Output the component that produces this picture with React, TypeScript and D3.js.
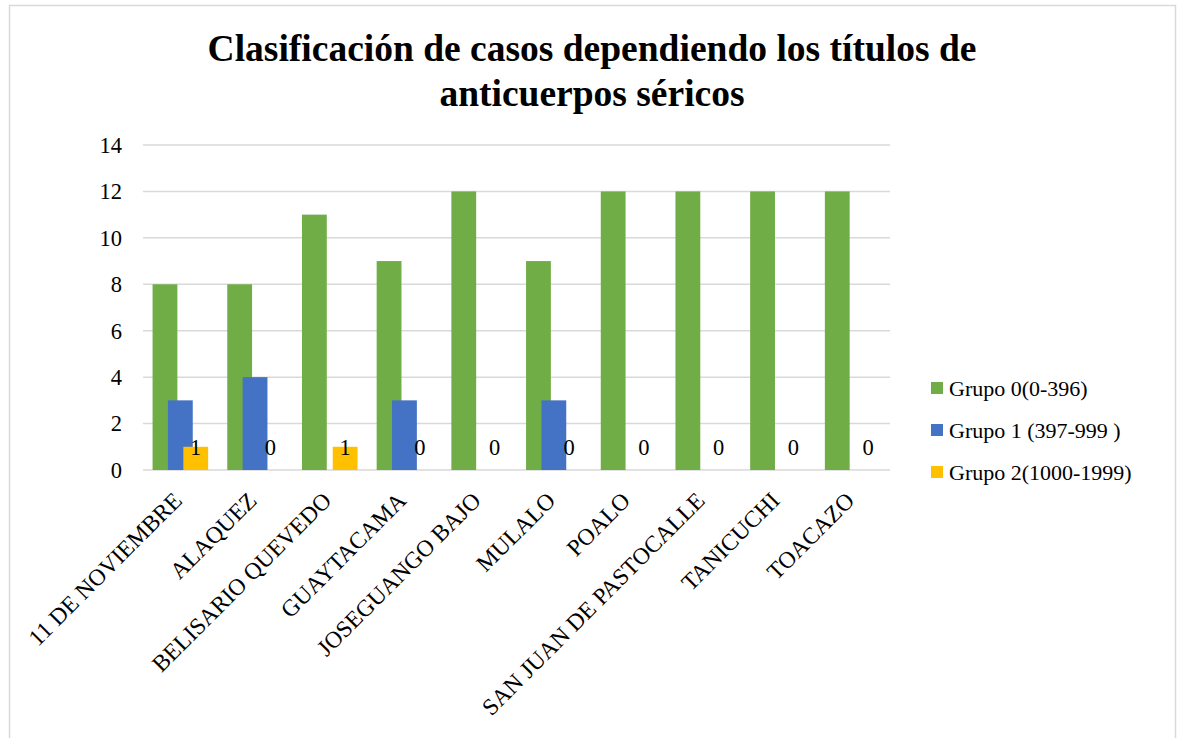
import React from "react";
import * as d3 from "d3";

const categories = [
  "11 DE NOVIEMBRE",
  "ALAQUEZ",
  "BELISARIO QUEVEDO",
  "GUAYTACAMA",
  "JOSEGUANGO BAJO",
  "MULALO",
  "POALO",
  "SAN JUAN DE PASTOCALLE",
  "TANICUCHI",
  "TOACAZO",
];
const grupo0 = [8, 8, 11, 9, 12, 9, 12, 12, 12, 12];
const grupo1 = [3, 4, 0, 3, 0, 3, 0, 0, 0, 0];
const grupo2 = [1, 0, 1, 0, 0, 0, 0, 0, 0, 0];
const seriesNames = ["Grupo 0(0-396)", "Grupo 1 (397-999 )", "Grupo 2(1000-1999)"];
const seriesColors = ["#70AD47", "#4472C4", "#FFC000"];
const yTicks = [0, 2, 4, 6, 8, 10, 12, 14];
const titleLines = ["Clasificación de casos dependiendo los títulos de", "anticuerpos séricos"];

const W = 1181;
const H = 738;
const plot = { left: 143, right: 890, top: 145, bottom: 470 };
const font = "'Liberation Serif', 'Times New Roman', serif";

export default function App() {
  const series = [grupo0, grupo1, grupo2];
  const x = d3.scaleBand<string>().domain(categories).range([plot.left, plot.right]).paddingInner(0).paddingOuter(0);
  const y = d3.scaleLinear().domain([0, 14]).range([plot.bottom, plot.top]);
  const band = x.bandwidth();
  const gap = band * 0.256;
  const groupW = band - gap;
  const barW = groupW / (1 + 2 * 0.62);
  const step = barW * 0.62;

  return (
    <svg width={W} height={H} style={{ position: "absolute", left: 0, top: 0, background: "#fff" }}>
      <rect x={9.5} y={5.5} width={1166} height={760} fill="#fff" stroke="#d9d9d9" strokeWidth={1.5} />
      {titleLines.map((t, i) => (
        <text key={i} x={592} y={61 + i * 45} textAnchor="middle" fontFamily={font} fontWeight="bold" fontSize={37.5} fill="#000">
          {t}
        </text>
      ))}
      {yTicks.map((t) => (
        <g key={t}>
          <line x1={plot.left} x2={plot.right} y1={y(t)} y2={y(t)} stroke="#d9d9d9" strokeWidth={1.5} />
          <text x={122} y={y(t)} dy="0.35em" textAnchor="end" fontFamily={font} fontSize={22.5} fill="#000">
            {t}
          </text>
        </g>
      ))}
      {series.map((vals, si) =>
        vals.map((v, ci) => {
          const x0 = (x(categories[ci]) as number) + gap / 2 + si * step;
          return (
            <rect key={`${si}-${ci}`} x={x0} y={y(v)} width={barW} height={y(0) - y(v)} fill={seriesColors[si]} />
          );
        })
      )}
      {grupo2.map((v, ci) => {
        const cx = (x(categories[ci]) as number) + gap / 2 + 2 * step + barW / 2;
        return (
          <text key={`l${ci}`} x={cx} y={Math.min(y(v), y(0) - 23)} dy="0.35em" textAnchor="middle" fontFamily={font} fontSize={22.5} fill="#000">
            {v}
          </text>
        );
      })}
      {categories.map((c) => {
        const cx = (x(c) as number) + band / 2 + 3;
        return (
          <text key={c} transform={`translate(${cx},${502}) rotate(-45)`} textAnchor="end" fontFamily={font} fontSize={23.5} fill="#000">
            {c}
          </text>
        );
      })}
      {seriesNames.map((n, i) => (
        <g key={n} transform={`translate(931,${388 + i * 42})`}>
          <rect x={0} y={-6} width={12} height={12} fill={seriesColors[i]} />
          <text x={18} y={0} dy="0.35em" fontFamily={font} fontSize={22} fill="#000">
            {n}
          </text>
        </g>
      ))}
    </svg>
  );
}
